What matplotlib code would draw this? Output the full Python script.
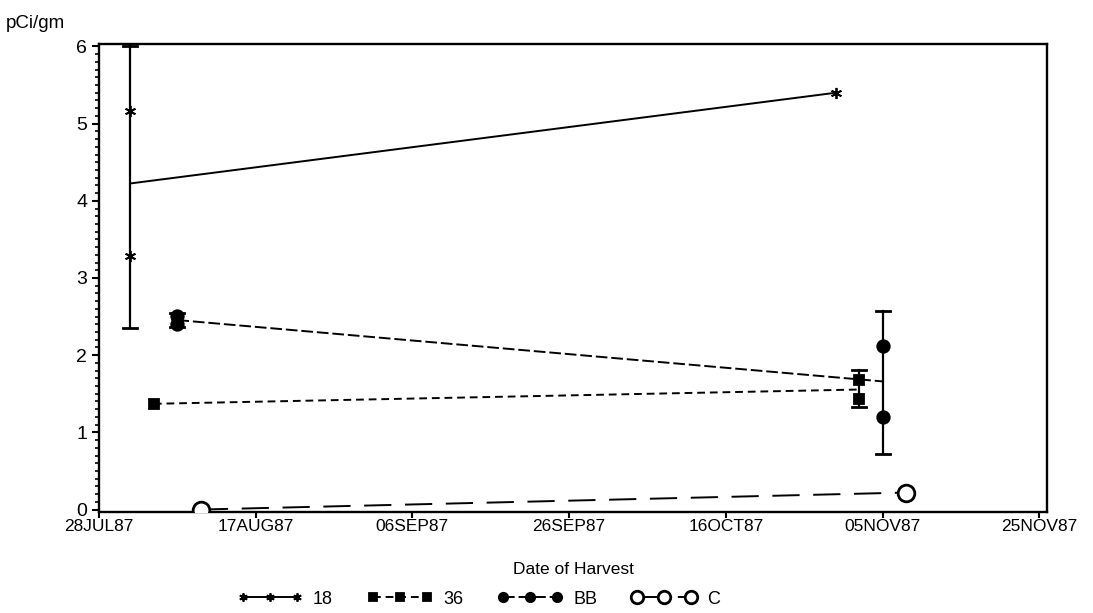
import matplotlib.pyplot as plt
from matplotlib.lines import Line2D
from matplotlib.ticker import MultipleLocator
import matplotlib.dates as mdates
import numpy as np
from datetime import date

plt.rcParams['font.family'] = ['Liberation Sans', 'DejaVu Sans']

# harvest dates, individual readings (pCi/gm) and error bar ranges per group
dates_18 = [date(1987, 8, 1), date(1987, 10, 30)]
vals_18 = [[5.17, 3.28], [5.40]]
bars_18 = [(2.35, 6.0), None]

dates_36 = [date(1987, 8, 4), date(1987, 11, 2)]
vals_36 = [[1.37], [1.68, 1.43]]
bars_36 = [None, (1.33, 1.81)]

dates_bb = [date(1987, 8, 7), date(1987, 11, 5)]
vals_bb = [[2.51, 2.40], [2.12, 1.20]]
bars_bb = [(2.37, 2.54), (0.72, 2.57)]

dates_c = [date(1987, 8, 10), date(1987, 11, 8)]
vals_c = [[0.0], [0.22]]
bars_c = [None, None]

tick_dates = [date(1987, 7, 28), date(1987, 8, 17), date(1987, 9, 6), date(1987, 9, 26),
              date(1987, 10, 16), date(1987, 11, 5), date(1987, 11, 25)]
tick_labels = ['28JUL87', '17AUG87', '06SEP87', '26SEP87', '16OCT87', '05NOV87', '25NOV87']

series = [
    ('18', dates_18, vals_18, bars_18, dict(ls='-', marker=(6, 2, 0), ms=8, mfc='black')),
    ('36', dates_36, vals_36, bars_36, dict(ls=(0, (4, 2.5)), marker='s', ms=7, mfc='black')),
    ('BB', dates_bb, vals_bb, bars_bb, dict(ls=(0, (6, 2)), marker='o', ms=9, mfc='black')),
    ('C', dates_c, vals_c, bars_c, dict(ls=(0, (14, 7)), marker='o', ms=12, mfc='white', mew=2)),
]

fig = plt.figure(figsize=(10.93, 6.13), dpi=100)
ax = fig.add_axes([0.0906, 0.165, 0.8674, 0.763])

handles = []
for name, dts, vals, bars, style in series:
    x = mdates.date2num(dts)
    means = [np.mean(v) for v in vals]
    # line through the group means
    ax.plot(x, means, color='black', lw=1.4, ls=style['ls'], zorder=2)
    # individual readings
    for xi, v in zip(x, vals):
        ax.plot([xi] * len(v), v, ls='none', marker=style['marker'], ms=style['ms'],
                mfc=style['mfc'], mec='black', mew=style.get('mew', 1.3), zorder=3)
    # error bars
    for xi, b in zip(x, bars):
        if b is None:
            continue
        ax.plot([xi, xi], b, color='black', lw=1.6, zorder=2)
        ax.plot([xi - 0.9, xi + 0.9], [b[0], b[0]], color='black', lw=2, zorder=2)
        ax.plot([xi - 0.9, xi + 0.9], [b[1], b[1]], color='black', lw=2, zorder=2)
    handles.append(Line2D([], [], color='black', lw=1.4, ls=style['ls'],
                          marker=style['marker'], ms=style['ms'] * 0.75,
                          mfc=style['mfc'], mec='black', mew=style.get('mew', 1.3), label=name))

ax.set_xlim(mdates.date2num(date(1987, 7, 28)), mdates.date2num(date(1987, 11, 26)))
ax.set_ylim(-0.03, 6.03)
ax.set_xticks(mdates.date2num(tick_dates))
ax.set_xticklabels(tick_labels, fontsize=12.5)
ax.yaxis.set_major_locator(MultipleLocator(1))
ax.yaxis.set_minor_locator(MultipleLocator(0.1))
ax.tick_params(axis='y', labelsize=14, length=5, width=1.5)
ax.tick_params(axis='y', which='minor', length=3, width=1.2)
ax.tick_params(axis='x', length=4, width=1.5, pad=1)
for sp in ax.spines.values():
    sp.set_linewidth(1.7)

ax.set_xlabel('Date of Harvest', fontsize=12.5, labelpad=20)
fig.text(0.005, 0.955, 'pCi/gm', fontsize=13.5)

fig.legend(handles=handles, loc='lower center', bbox_to_anchor=(0.438, -0.018), ncol=4,
           frameon=False, numpoints=3, handlelength=3.6, columnspacing=1.9,
           handletextpad=0.6, fontsize=13)

fig.savefig('out.png', dpi=100)
